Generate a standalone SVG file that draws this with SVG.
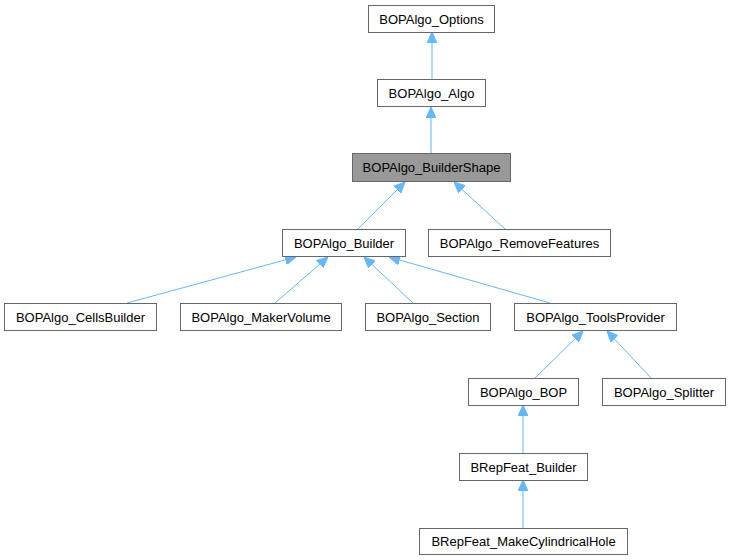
<svg xmlns="http://www.w3.org/2000/svg" width="730" height="560" viewBox="0 0 730 560">
<style>
.n rect{fill:#ffffff;stroke:#666666;stroke-width:1}
#n_buildershape rect{fill:#999999}
.n text{font-family:"Liberation Sans",Arial,sans-serif;font-size:13px;fill:#000000;text-anchor:middle}
.e line{stroke:#63b8ff;stroke-width:1;fill:none;marker-end:url(#ah)}
</style>
<defs>
<marker id="ah" viewBox="0 0 11 10" refX="11" refY="5" markerWidth="11" markerHeight="10" markerUnits="userSpaceOnUse" orient="auto">
<path d="M0,0 L11,5 L0,10 z" fill="#63b8ff" stroke="#63b8ff" stroke-width="1"/>
</marker>
</defs>
<rect width="730" height="560" fill="#ffffff"/>
<g id="connectors" class="e">
<line x1="432" y1="79" x2="432" y2="32"/>
<line x1="431" y1="153" x2="431" y2="107"/>
<line x1="358" y1="229" x2="405" y2="182"/>
<line x1="505" y1="229" x2="454" y2="182"/>
<line x1="127" y1="303" x2="296" y2="257"/>
<line x1="275" y1="303" x2="328" y2="257"/>
<line x1="413" y1="303" x2="364" y2="257"/>
<line x1="550" y1="303" x2="389" y2="257"/>
<line x1="535" y1="378" x2="583" y2="331"/>
<line x1="651" y1="378" x2="607" y2="331"/>
<line x1="523" y1="453" x2="523" y2="405"/>
<line x1="523" y1="528" x2="523" y2="480"/>
</g>
<g id="n_options" class="n"><rect x="368.5" y="5.5" width="126" height="27"/><text x="431.5" y="23.5">BOPAlgo_Options</text></g>
<g id="n_algo" class="n"><rect x="377.5" y="79.5" width="108" height="27"/><text x="431.5" y="97.5">BOPAlgo_Algo</text></g>
<g id="n_buildershape" class="n"><rect x="352.5" y="153.5" width="158" height="28"/><text x="431.5" y="172">BOPAlgo_BuilderShape</text></g>
<g id="n_builder" class="n"><rect x="282.5" y="229.5" width="123" height="27"/><text x="344" y="247.5">BOPAlgo_Builder</text></g>
<g id="n_removefeatures" class="n"><rect x="428.5" y="229.5" width="182" height="27"/><text x="519.5" y="247.5">BOPAlgo_RemoveFeatures</text></g>
<g id="n_cellsbuilder" class="n"><rect x="4.5" y="303.5" width="152" height="27"/><text x="80.5" y="321.5">BOPAlgo_CellsBuilder</text></g>
<g id="n_makervolume" class="n"><rect x="180.5" y="303.5" width="161" height="27"/><text x="261" y="321.5">BOPAlgo_MakerVolume</text></g>
<g id="n_section" class="n"><rect x="365.5" y="303.5" width="125" height="27"/><text x="428" y="321.5">BOPAlgo_Section</text></g>
<g id="n_toolsprovider" class="n"><rect x="514.5" y="303.5" width="162" height="27"/><text x="595.5" y="321.5">BOPAlgo_ToolsProvider</text></g>
<g id="n_bop" class="n"><rect x="468.5" y="378.5" width="110" height="27"/><text x="523.5" y="396.5">BOPAlgo_BOP</text></g>
<g id="n_splitter" class="n"><rect x="602.5" y="378.5" width="123" height="27"/><text x="664" y="396.5">BOPAlgo_Splitter</text></g>
<g id="n_brepfeat_builder" class="n"><rect x="459.5" y="453.5" width="128" height="27"/><text x="523.5" y="471.5">BRepFeat_Builder</text></g>
<g id="n_makecylindricalhole" class="n"><rect x="419.5" y="528.5" width="208" height="26"/><text x="523.5" y="546">BRepFeat_MakeCylindricalHole</text></g>
</svg>
